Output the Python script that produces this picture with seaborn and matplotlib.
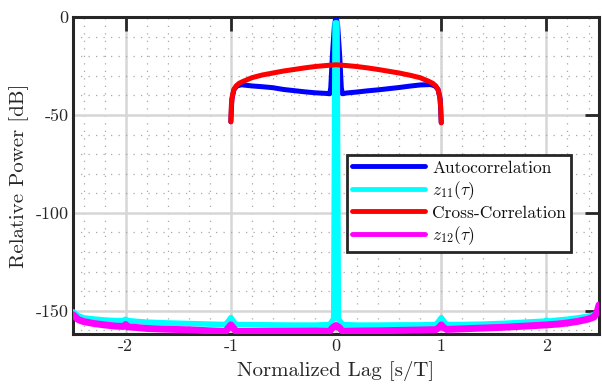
import numpy as np
import pandas as pd
import matplotlib
matplotlib.use("Agg")
import matplotlib.pyplot as plt
import seaborn as sns
from matplotlib.ticker import MultipleLocator

# ---------------- data ----------------
x_ac = [-1.0, -0.99, -0.97, -0.94, -0.9, -0.8, -0.7, -0.6, -0.5, -0.4, -0.3, -0.2, -0.1,
        -0.06, -0.05, -0.035, -0.015, 0.0, 0.015, 0.035, 0.05, 0.06,
        0.1, 0.2, 0.3, 0.4, 0.5, 0.6, 0.7, 0.8, 0.9, 0.94, 0.97, 0.99, 1.0]
y_ac = [-53.5, -42.0, -37.0, -35.2, -34.6, -35.2, -35.6, -36.1, -37.0, -37.6, -38.2, -38.7, -39.0,
        -39.2, -36.0, -20.0, -4.0, 0.0, -4.0, -20.0, -36.0, -39.2,
        -38.8, -38.3, -37.7, -37.2, -36.6, -36.0, -35.3, -34.7, -34.5, -35.2, -37.0, -42.0, -54.0]

x_z11 = [-2.5, -2.45, -2.4, -2.3, -2.2, -2.1, -2.02, -2.0, -1.98, -1.9, -1.8, -1.6, -1.4, -1.2,
         -1.05, -1.02, -1.0, -0.98, -0.95, -0.8, -0.6, -0.4, -0.2, -0.06, -0.022, -0.009,
         0.009, 0.022, 0.06, 0.2, 0.4, 0.6, 0.8, 0.95, 0.98, 1.0, 1.02, 1.05, 1.2, 1.4, 1.6,
         1.8, 1.98, 2.0, 2.02, 2.1, 2.2, 2.3, 2.4, 2.45, 2.5]
y_z11 = [-150.5, -152.5, -153.6, -154.2, -154.7, -155.0, -155.0, -154.3, -155.0, -155.4, -155.8,
         -156.2, -156.5, -156.8, -157.0, -155.0, -153.5, -155.0, -157.0, -157.1, -157.2, -157.3,
         -157.3, -157.0, -154.0, -3.0, -3.0, -154.0, -157.0, -157.3, -157.3, -157.2, -157.2,
         -157.0, -155.0, -153.5, -155.0, -157.0, -157.0, -156.8, -156.4, -155.8, -155.3, -154.8,
         -155.3, -154.8, -154.3, -153.6, -152.7, -152.0, -150.0]

x_cc = [-1.0, -0.995, -0.985, -0.97, -0.95, -0.92, -0.88, -0.8, -0.7, -0.6, -0.5, -0.4, -0.3,
        -0.2, -0.1, 0.0, 0.1, 0.2, 0.3, 0.4, 0.5, 0.6, 0.7, 0.8, 0.88, 0.92, 0.95, 0.97,
        0.985, 0.995, 1.0]
y_cc = [-53.5, -45.0, -40.0, -37.0, -35.2, -33.8, -32.8, -31.0, -29.6, -28.6, -27.6, -26.8,
        -26.0, -25.3, -24.8, -24.4, -24.8, -25.3, -26.0, -26.8, -27.7, -28.6, -29.7, -31.0,
        -32.8, -33.9, -35.3, -37.2, -40.5, -46.0, -54.0]

x_z12 = [-2.5, -2.45, -2.4, -2.3, -2.2, -2.1, -2.02, -2.0, -1.98, -1.9, -1.8, -1.6, -1.4, -1.2,
         -1.05, -1.02, -1.0, -0.98, -0.95, -0.8, -0.6, -0.4, -0.2, -0.06, -0.03, 0.0, 0.03,
         0.06, 0.2, 0.4, 0.6, 0.8, 0.95, 0.98, 1.0, 1.02, 1.05, 1.2, 1.4, 1.6, 1.8, 2.0, 2.1,
         2.2, 2.3, 2.4, 2.45, 2.48, 2.5]
y_z12 = [-152.0, -154.5, -155.5, -156.5, -157.2, -157.8, -158.0, -157.0, -158.2, -158.5, -159.0,
         -159.4, -159.7, -160.2, -160.5, -158.5, -157.2, -158.5, -160.5, -160.5, -160.4, -160.4,
         -160.3, -160.3, -158.5, -157.5, -158.5, -160.3, -160.3, -160.2, -160.0, -159.8, -159.6,
         -158.5, -157.2, -158.5, -159.5, -159.2, -158.8, -158.4, -157.8, -157.2, -156.8, -156.2,
         -155.4, -154.2, -153.2, -151.0, -147.0]

labels = ["Autocorrelation", r"$z_{11}(\tau)$", "Cross-Correlation", r"$z_{12}(\tau)$"]
colors = ["#0000ff", "#00ffff", "#ff0000", "#ff00ff"]
x_ticks = [-2, -1, 0, 1, 2]
y_ticks = [-150, -100, -50, 0]
x_ticklabels = ["-2", "-1", "0", "1", "2"]
y_ticklabels = ["-150", "-100", "-50", "0"]
x_label = "Normalized Lag [s/T]"
y_label = "Relative Power [dB]"

# ---------------- style ----------------
sns.set_theme(style="white")
plt.rcParams["font.family"] = ["cmr10", "DejaVu Serif"]
plt.rcParams["mathtext.fontset"] = "cm"
plt.rcParams["axes.unicode_minus"] = False

fig = plt.figure(figsize=(6.02, 3.86), dpi=100)
ax = fig.add_axes([0.1213, 0.1339, 0.8738, 0.8221])

series = [(x_ac, y_ac), (x_z11, y_z11), (x_cc, y_cc), (x_z12, y_z12)]
widths = [3.6, 4.0, 3.6, 5.0]
for (xs, ys), lab, col, lw in zip(series, labels, colors, widths):
    df = pd.DataFrame({"x": xs, "y": ys})
    sns.lineplot(data=df, x="x", y="y", ax=ax, color=col, lw=lw, label=lab,
                 estimator=None, sort=False, zorder=3)

ax.set_xlim(-2.5, 2.5)
ax.set_ylim(-162, 0)
ax.set_xticks(x_ticks)
ax.set_xticklabels(x_ticklabels)
ax.set_yticks(y_ticks)
ax.set_yticklabels(y_ticklabels)
ax.xaxis.set_minor_locator(MultipleLocator(0.2))
ax.yaxis.set_minor_locator(MultipleLocator(10))

ax.grid(True, which="major", color="#d6d6d6", lw=1.8, zorder=0)
ax.grid(True, which="minor", color="#a8a8a8", lw=0.9, linestyle=(0, (1, 5)), zorder=0)
ax.axvline(1.0, color="#8a8a8a", lw=1.0, linestyle=(0, (1, 1.2)), zorder=0.5)
ax.set_axisbelow(True)

ax.tick_params(which="major", direction="in", length=10, width=2.0, color="#262626",
               top=True, right=True, labelsize=13, pad=3, labelcolor="#262626")
ax.tick_params(which="minor", length=0, top=True, right=True)
for sp in ax.spines.values():
    sp.set_linewidth(2.2)
    sp.set_color("#262626")
    sp.set_visible(True)

ax.set_xlabel(x_label, fontsize=15, color="#262626", labelpad=5)
ax.set_ylabel(y_label, fontsize=15, color="#262626")
ax.yaxis.set_label_coords(-0.084, 0.5)

leg = ax.legend(loc="upper left", bbox_to_anchor=(0.521, 0.565), borderaxespad=0,
                fontsize=12.5, handlelength=4.2, handletextpad=0.4, labelspacing=0.2,
                fancybox=False, framealpha=1, borderpad=0.3)
leg.get_frame().set_edgecolor("#262626")
leg.get_frame().set_linewidth(2.0)
for h in leg.get_lines():
    h.set_linewidth(3.5)
for t in leg.get_texts():
    t.set_color("#111111")

fig.savefig("out.png", dpi=100)
